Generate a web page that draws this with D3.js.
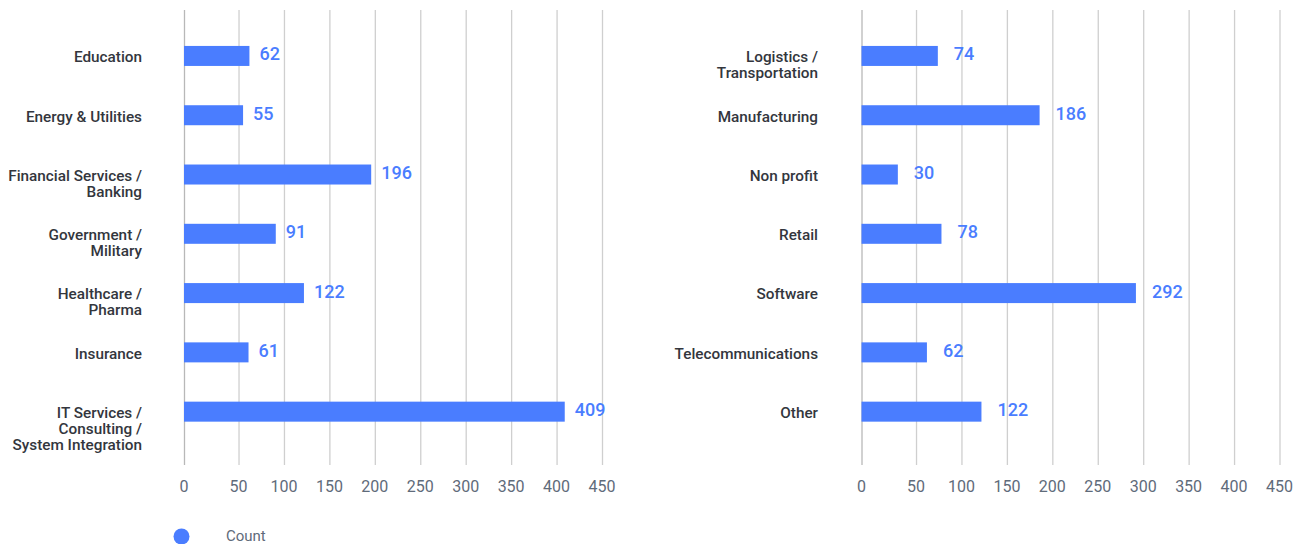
<!DOCTYPE html>
<html><head><meta charset="utf-8">
<script src="https://cdn.jsdelivr.net/npm/d3@7"></script>
<style>
html,body{margin:0;padding:0;background:#fff;}
svg{display:block;}
</style></head>
<body>
<svg id="chart" width="1301" height="544"></svg>
<script>
const leftCategories = ["Education", "Energy & Utilities", "Financial Services /\nBanking", "Government /\nMilitary", "Healthcare /\nPharma", "Insurance", "IT Services /\nConsulting /\nSystem Integration"];
const leftValues = [62, 55, 196, 91, 122, 61, 409];
const rightCategories = ["Logistics /\nTransportation", "Manufacturing", "Non profit", "Retail", "Software", "Telecommunications", "Other"];
const rightValues = [74, 186, 30, 78, 292, 62, 122];
const tickValues = [0, 50, 100, 150, 200, 250, 300, 350, 400, 450];
const tickLabels = ["0", "50", "100", "150", "200", "250", "300", "350", "400", "450"];
const seriesName = "Count";

const svg = d3.select("#chart");
const blue = "#4a7dff";
const gridColor = "#cfcfcf";

function panel(cats, vals, x0, x1, labelRight, valueGap) {
  const x = d3.scaleLinear().domain([-10, 450]).range([x0, x1]);
  const y = d3.scaleBand().domain(cats).range([26.3, 441.3]).paddingInner(0.66).paddingOuter(0.33);
  const g = svg.append("g");
  const tx = t => t === 0 ? x.range()[0] : x(t);
  g.selectAll("line.grid").data(tickValues).join("line")
    .attr("x1", d => tx(d) + 0.5).attr("x2", d => tx(d) + 0.5)
    .attr("y1", 10).attr("y2", 465)
    .attr("stroke", (d, i) => i === 0 ? "#b8b8b8" : gridColor).attr("stroke-width", 1.3);
  g.selectAll("text.tick").data(tickValues).join("text")
    .attr("x", d => tx(d)).attr("y", 486)
    .attr("text-anchor", "middle").attr("dominant-baseline", "central")
    .attr("font-family", "Roboto, sans-serif").attr("font-size", 16)
    .attr("fill", "#5f6b7a")
    .text((d, i) => tickLabels[i]);
  const bh = 20;
  g.selectAll("rect.bar").data(vals).join("rect")
    .attr("x", x(-10)).attr("width", d => x(d) - x(-10))
    .attr("y", (d, i) => y(cats[i]) + y.bandwidth() / 2 - bh / 2)
    .attr("height", bh).attr("fill", blue);
  g.selectAll("text.val").data(vals).join("text")
    .attr("x", d => x(d) + valueGap)
    .attr("y", (d, i) => y(cats[i]) + y.bandwidth() / 2 - 2)
    .attr("dominant-baseline", "central")
    .attr("font-family", "Roboto, sans-serif").attr("font-size", 18).attr("font-weight", 500)
    .attr("fill", blue).text(d => d);
  cats.forEach((c, i) => {
    const lines = c.split("\n");
    const t = g.append("text")
      .attr("x", labelRight)
      .attr("y", y(c) + y.bandwidth() / 2 + 1)
      .attr("text-anchor", "end")
      .attr("font-family", "Roboto, sans-serif").attr("font-size", 15.3).attr("font-weight", 500)
      .attr("fill", "#33363d");
    lines.forEach((l, j) => {
      t.append("tspan").attr("x", labelRight).attr("dy", j === 0 ? "0.35em" : 16).text(l);
    });
  });
}

panel(leftCategories, leftValues, 184, 602, 142, 10);
panel(rightCategories, rightValues, 861.5, 1279.5, 818, 16);

svg.append("circle").attr("cx", 181.5).attr("cy", 536.5).attr("r", 8).attr("fill", blue);
svg.append("text").attr("x", 226).attr("y", 536).attr("dominant-baseline", "central")
  .attr("font-family", "Roboto, sans-serif").attr("font-size", 15).attr("fill", "#5f6b7a")
  .text(seriesName);
</script>
</body></html>
